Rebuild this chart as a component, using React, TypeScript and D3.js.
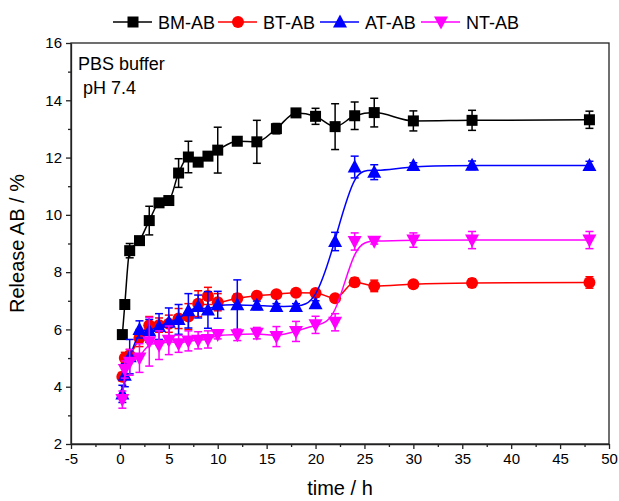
import { useEffect, useRef } from 'react';
import * as d3 from 'd3';

// sampling times (h)
const times = [0.25, 0.5, 1, 2, 3, 4, 5, 6, 7, 8, 9, 10, 12, 14, 16, 18, 20, 22, 24, 26, 30, 36, 48];

const bmValues = [5.82, 6.87, 8.75, 9.1, 9.8, 10.42, 10.5, 11.46, 12.02, 11.84, 12.05, 12.26, 12.57, 12.55, 13.01, 13.56, 13.44, 13.08, 13.46, 13.57, 13.28, 13.3, 13.32];
const bmErrors = [0.1, 0.15, 0.25, 0.1, 0.5, 0.1, 0.1, 0.5, 0.55, 0.1, 0.1, 0.8, 0.1, 0.75, 0.18, 0.05, 0.28, 0.8, 0.48, 0.5, 0.35, 0.35, 0.3];

const btValues = [4.35, 5.0, 5.1, 5.7, 6.15, 6.15, 6.2, 6.38, 6.45, 6.9, 7.17, 6.95, 7.09, 7.18, 7.23, 7.28, 7.27, 7.09, 7.65, 7.52, 7.58, 7.62, 7.64];
const btErrors = [0.15, 0.2, 0.2, 0.3, 0.3, 0.25, 0.3, 0.35, 0.45, 0.45, 0.3, 0.3, 0.15, 0.1, 0.1, 0.1, 0.1, 0.1, 0.15, 0.2, 0.1, 0.15, 0.2];

const atValues = [3.75, 4.4, 5.05, 6.0, 5.95, 6.1, 6.25, 6.35, 6.65, 6.8, 6.68, 6.86, 6.86, 6.84, 6.8, 6.8, 6.9, 9.07, 11.67, 11.49, 11.72, 11.73, 11.72];
const atErrors = [0.3, 0.4, 0.6, 0.3, 0.4, 0.45, 0.5, 0.52, 0.6, 0.4, 0.64, 0.47, 0.87, 0.15, 0.1, 0.1, 0.1, 0.32, 0.38, 0.26, 0.1, 0.15, 0.15];

const ntValues = [3.55, 4.6, 4.85, 5.0, 5.57, 5.45, 5.62, 5.5, 5.6, 5.62, 5.65, 5.82, 5.81, 5.87, 5.75, 5.93, 6.16, 6.25, 9.07, 9.08, 9.12, 9.12, 9.12];
const ntErrors = [0.3, 0.3, 0.45, 0.5, 0.85, 0.5, 0.5, 0.3, 0.35, 0.3, 0.3, 0.15, 0.2, 0.2, 0.35, 0.35, 0.3, 0.3, 0.3, 0.1, 0.25, 0.3, 0.3];

const seriesNames = ['BM-AB', 'BT-AB', 'AT-AB', 'NT-AB'];
const seriesColors = ['#000000', '#ff0000', '#0000ff', '#ff00ff'];

const xTicks = [-5, 0, 5, 10, 15, 20, 25, 30, 35, 40, 45, 50];
const yTicks = [2, 4, 6, 8, 10, 12, 14, 16];

const FONT = 'Arial, "Liberation Sans", sans-serif';

const markerPath = (kind: string) => {
  if (kind === 'square') return 'M-5.5,-5.5H5.5V5.5H-5.5Z';
  if (kind === 'up') return 'M0,-7.5L7,5.5L-7,5.5Z';
  if (kind === 'down') return 'M0,7.5L7,-5.5L-7,-5.5Z';
  return d3.symbol(d3.symbolCircle, Math.PI * 6 * 6)() as string;
};

const App = () => {
  const svgRef = useRef<SVGSVGElement>(null);

  useEffect(() => {
    const width = 619;
    const height = 501;
    const margin = { top: 43, right: 10, bottom: 57, left: 71 };

    const svg = d3.select(svgRef.current);
    svg.selectAll('*').remove();
    svg.attr('width', width).attr('height', height);

    const x = d3.scaleLinear().domain([-5, 50]).range([margin.left, width - margin.right]);
    const y = d3.scaleLinear().domain([2, 16]).range([height - margin.bottom, margin.top]);

    const series = [
      { values: bmValues, errors: bmErrors, marker: 'square', curve: d3.curveMonotoneX },
      { values: btValues, errors: btErrors, marker: 'circle', curve: d3.curveMonotoneX },
      { values: atValues, errors: atErrors, marker: 'up', curve: d3.curveBasis },
      { values: ntValues, errors: ntErrors, marker: 'down', curve: d3.curveBasis },
    ].map((s, i) => ({
      ...s,
      name: seriesNames[i],
      color: seriesColors[i],
      points: times.map((t, j) => ({ t, v: s.values[j], e: s.errors[j] })),
    }));

    // data
    series.forEach(s => {
      const g = svg.append('g');
      const line = d3.line<{ t: number; v: number }>()
        .x(d => x(d.t))
        .y(d => y(d.v))
        .curve(s.curve);

      g.append('path')
        .datum(s.points)
        .attr('d', line)
        .attr('fill', 'none')
        .attr('stroke', s.color)
        .attr('stroke-width', 1.5);

      const eb = g.selectAll('g.err')
        .data(s.points)
        .join('g')
        .attr('stroke', s.color)
        .attr('stroke-width', 1.5);
      eb.append('line')
        .attr('x1', d => x(d.t)).attr('x2', d => x(d.t))
        .attr('y1', d => y(d.v - d.e)).attr('y2', d => y(d.v + d.e));
      eb.append('line')
        .attr('x1', d => x(d.t) - 4).attr('x2', d => x(d.t) + 4)
        .attr('y1', d => y(d.v + d.e)).attr('y2', d => y(d.v + d.e));
      eb.append('line')
        .attr('x1', d => x(d.t) - 4).attr('x2', d => x(d.t) + 4)
        .attr('y1', d => y(d.v - d.e)).attr('y2', d => y(d.v - d.e));

      g.selectAll('path.mk')
        .data(s.points)
        .join('path')
        .attr('class', 'mk')
        .attr('d', markerPath(s.marker))
        .attr('transform', d => `translate(${x(d.t)},${y(d.v)})`)
        .attr('fill', s.color);
    });

    // frame
    const axisColor = '#222';
    svg.append('rect')
      .attr('x', margin.left)
      .attr('y', margin.top)
      .attr('width', width - margin.right - margin.left)
      .attr('height', height - margin.bottom - margin.top)
      .attr('fill', 'none')
      .attr('stroke', axisColor)
      .attr('stroke-width', 1.3);

    // X axis
    const xAxis = svg.append('g')
      .attr('transform', `translate(0,${height - margin.bottom})`)
      .call(d3.axisBottom(x).tickValues(xTicks).tickSize(5).tickSizeOuter(0).tickPadding(4)
        .tickFormat(d => String(d)));
    xAxis.append('g')
      .call(d3.axisBottom(x).tickValues(d3.range(-2.5, 50, 5)).tickSize(3).tickFormat(() => ''))
      .select('.domain').remove();

    // Y axis
    const yAxis = svg.append('g')
      .attr('transform', `translate(${margin.left},0)`)
      .call(d3.axisLeft(y).tickValues(yTicks).tickSize(5).tickSizeOuter(0).tickPadding(4));
    yAxis.append('g')
      .call(d3.axisLeft(y).tickValues(d3.range(3, 16, 2)).tickSize(3).tickFormat(() => ''))
      .select('.domain').remove();

    svg.selectAll('.tick text')
      .style('font-family', FONT)
      .style('font-size', '15px')
      .style('fill', '#000');
    svg.selectAll('.domain, .tick line')
      .style('stroke', axisColor)
      .style('stroke-width', 1.3);

    // axis titles
    svg.append('text')
      .attr('x', (margin.left + width - margin.right) / 2)
      .attr('y', 495)
      .attr('text-anchor', 'middle')
      .style('font-family', FONT)
      .style('font-size', '20px')
      .text('time / h');

    svg.append('text')
      .attr('transform', `translate(24,${(margin.top + height - margin.bottom) / 2}) rotate(-90)`)
      .attr('text-anchor', 'middle')
      .style('font-family', FONT)
      .style('font-size', '20px')
      .text('Release AB / %');

    // annotation
    svg.append('text').attr('x', 78).attr('y', 70)
      .style('font-family', FONT).style('font-size', '18px').text('PBS buffer');
    svg.append('text').attr('x', 83).attr('y', 94)
      .style('font-family', FONT).style('font-size', '18px').text('pH 7.4');

    // legend
    const legendX = [113, 218, 320, 421];
    series.forEach((s, i) => {
      const lg = svg.append('g').attr('transform', `translate(${legendX[i]},22)`);
      lg.append('line')
        .attr('x1', 0).attr('x2', 39)
        .attr('stroke', s.color).attr('stroke-width', 1.5);
      lg.append('path')
        .attr('d', markerPath(s.marker))
        .attr('transform', 'translate(20,0)')
        .attr('fill', s.color);
      lg.append('text')
        .attr('x', 45).attr('y', 6.5)
        .style('font-family', FONT).style('font-size', '18px')
        .text(s.name);
    });
  }, []);

  return (
    <svg ref={svgRef} style={{ position: 'absolute', left: 0, top: 0, background: '#fff' }} />
  );
};

export default App;
